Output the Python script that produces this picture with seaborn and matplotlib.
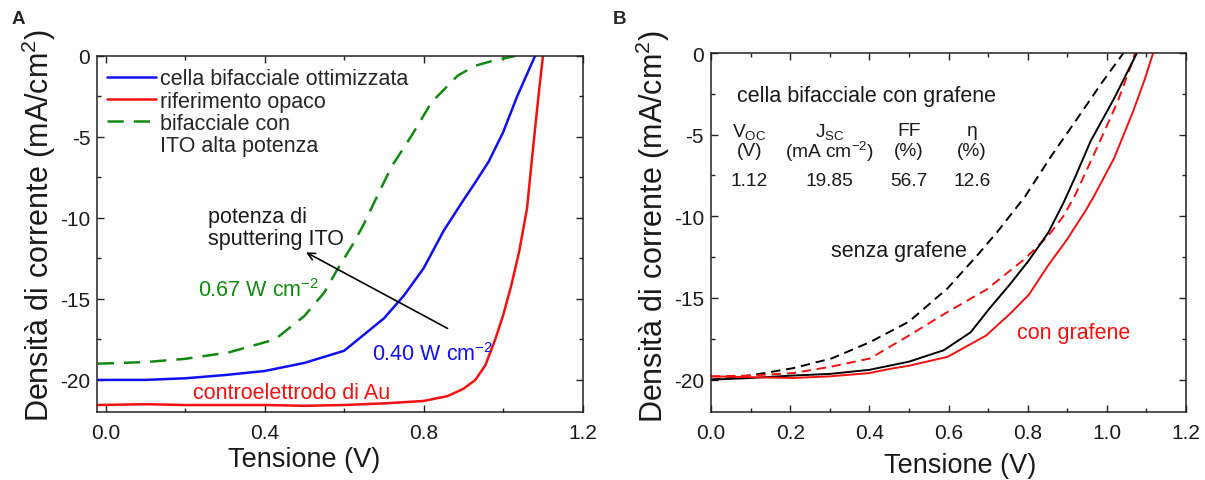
import matplotlib
matplotlib.use("Agg")
import matplotlib.pyplot as plt
from matplotlib.lines import Line2D
from matplotlib.ticker import MultipleLocator, FormatStrFormatter
import seaborn as sns

# ---------------- Panel A: ITO sputtering power ----------------
va_ref = [-0.02, 0.1, 0.2, 0.3, 0.4, 0.5, 0.6, 0.7, 0.8, 0.86, 0.9, 0.93, 0.955,
          0.98, 1.0, 1.02, 1.04, 1.06, 1.073, 1.088, 1.10]
ja_ref = [-21.55, -21.5, -21.55, -21.55, -21.55, -21.6, -21.55, -21.45, -21.3, -21.0,
          -20.55, -20.0, -19.1, -17.5, -16.0, -14.2, -12.1, -9.4, -6.2, -2.65, 0.0]

va_opt = [-0.02, 0.1, 0.2, 0.3, 0.4, 0.5, 0.6, 0.65, 0.7, 0.75, 0.8, 0.85, 0.9,
          0.93, 0.964, 1.0, 1.035, 1.08]
ja_opt = [-20.0, -20.0, -19.9, -19.7, -19.45, -18.95, -18.2, -17.2, -16.2, -14.8,
          -13.1, -10.8, -8.9, -7.8, -6.5, -4.7, -2.5, 0.0]

va_hi = [-0.02, 0.1, 0.2, 0.31, 0.426, 0.5, 0.55, 0.58, 0.62, 0.647, 0.69, 0.72,
         0.77, 0.82, 0.886, 0.93, 0.973, 1.03]
ja_hi = [-19.0, -18.9, -18.7, -18.3, -17.5, -16.05, -14.6, -13.3, -11.7, -10.5,
         -8.3, -6.8, -4.9, -2.85, -1.2, -0.6, -0.3, 0.0]

legend_a = ["cella bifacciale ottimizzata", "riferimento opaco", "bifacciale con",
            "ITO alta potenza"]

# ---------------- Panel B: graphene ----------------
vb_k_solid = [0.0, 0.1, 0.207, 0.30, 0.40, 0.50, 0.588, 0.656, 0.705, 0.754, 0.803,
              0.852, 0.89, 0.92, 0.959, 1.018, 1.076]
jb_k_solid = [-20.0, -19.9, -19.75, -19.65, -19.4, -18.9, -18.2, -17.1, -15.6, -14.2,
              -12.7, -11.0, -9.2, -7.6, -5.4, -2.8, 0.0]

vb_k_dash = [0.0, 0.05, 0.11, 0.207, 0.305, 0.402, 0.50, 0.598, 0.676, 0.725, 0.793,
             0.861, 0.92, 0.988, 1.042]
jb_k_dash = [-20.0, -19.9, -19.7, -19.3, -18.7, -17.7, -16.45, -14.4, -12.3, -10.9,
             -8.8, -6.26, -4.2, -1.8, 0.0]

vb_r_dash = [0.0, 0.1, 0.207, 0.305, 0.402, 0.50, 0.598, 0.695, 0.793, 0.852, 0.89,
             0.92, 0.978, 1.027, 1.061, 1.071]
jb_r_dash = [-19.8, -19.75, -19.6, -19.2, -18.7, -17.3, -15.85, -14.5, -12.6, -11.2,
             -10.0, -8.7, -5.65, -3.0, -0.77, 0.0]

vb_r_solid = [0.0, 0.1, 0.207, 0.30, 0.40, 0.45, 0.50, 0.598, 0.695, 0.754, 0.803,
              0.852, 0.90, 0.949, 0.969, 1.018, 1.066, 1.096, 1.117]
jb_r_solid = [-19.8, -19.85, -19.9, -19.8, -19.6, -19.35, -19.15, -18.6, -17.3, -16.0,
              -14.8, -13.0, -11.4, -9.55, -8.7, -6.46, -3.6, -1.6, 0.0]

table_heads = ["V$_{\\rm OC}$", "J$_{\\rm SC}$", "FF", "η"]
table_units = ["(V)", "(mA cm$^{-2}$)", "(%)", "(%)"]
table_vals = ["1.12", "19.85", "56.7", "12.6"]

BLUE = "#1010f5"
RED = "#f51010"
GREEN = "#128a12"
INK = "#1a1a1a"
FS = 15.5

sns.set_theme(style="ticks")
plt.rcParams.update({
    "font.family": ["Liberation Sans", "DejaVu Sans"],
    "mathtext.fontset": "custom",
    "mathtext.rm": "Liberation Sans",
    "mathtext.it": "Liberation Sans:italic",
    "mathtext.bf": "Liberation Sans:bold",
    "axes.unicode_minus": False,
    "axes.edgecolor": "#222222",
    "axes.linewidth": 1.1,
    "xtick.color": "#222222",
    "ytick.color": "#222222",
    "xtick.labelcolor": INK,
    "ytick.labelcolor": INK,
})

W, H = 1205, 481
fig = plt.figure(figsize=(W / 100, H / 100), dpi=100)
axA = fig.add_axes([97.3 / W, 1 - 413.3 / H, 485.4 / W, 356.3 / H])
axB = fig.add_axes([711 / W, 1 - 413.3 / H, 475 / W, 359.3 / H])


def style_axes(ax, xmaj, xmin):
    ax.xaxis.set_major_locator(MultipleLocator(xmaj))
    ax.xaxis.set_minor_locator(MultipleLocator(xmin))
    ax.yaxis.set_major_locator(MultipleLocator(5))
    ax.yaxis.set_minor_locator(MultipleLocator(2.5))
    ax.xaxis.set_major_formatter(FormatStrFormatter("%.1f"))
    ax.yaxis.set_major_formatter(FormatStrFormatter("%d"))
    ax.tick_params(which="both", direction="in", top=True, right=True,
                   width=1.0, labelsize=15)
    ax.tick_params(which="major", length=5)
    ax.tick_params(which="minor", length=2.8)
    ax.tick_params(axis="x", which="major", pad=8)
    ax.tick_params(axis="y", which="major", pad=5)
    for s in ax.spines.values():
        s.set_visible(True)
    ax.set_xlabel("Tensione (V)", fontsize=19.5, color=INK)
    ax.set_ylabel("Densità di corrente (mA/cm$^2$)", fontsize=22, color=INK)


# ---- Panel A ----
sns.lineplot(x=va_opt, y=ja_opt, ax=axA, color=BLUE, lw=1.8, sort=False,
             estimator=None, label=legend_a[0])
sns.lineplot(x=va_ref, y=ja_ref, ax=axA, color=RED, lw=1.8, sort=False,
             estimator=None, label=legend_a[1])
sns.lineplot(x=va_hi, y=ja_hi, ax=axA, color=GREEN, lw=1.8, sort=False,
             estimator=None, label=legend_a[2], linestyle=(0, (6.5, 4.0)))
axA.set_xlim(-0.021, 1.2)
axA.set_ylim(-22, 0)
style_axes(axA, 0.4, 0.2)
axA.xaxis.set_label_coords(0.427, -0.095)
axA.yaxis.set_label_coords(-0.081, 0.528)

handles, labels = axA.get_legend_handles_labels()
handles.append(Line2D([], [], color="none"))
labels.append(legend_a[3])
axA.legend(handles, labels, loc="upper left", bbox_to_anchor=(0.021, 0.965),
           frameon=False, fontsize=FS, handlelength=2.25, handletextpad=0.18,
           labelspacing=0.05, borderpad=0, borderaxespad=0)

axA.text(0.258, -10.6, "potenza di\nsputtering ITO", fontsize=FS, color=INK,
         ha="left", va="center", linespacing=1.05)
axA.annotate("", xy=(0.498, -12.04), xytext=(0.866, -16.9),
             arrowprops=dict(arrowstyle="->", color="black", lw=1.2,
                             mutation_scale=13))
axA.text(0.233, -14.4, "0.67 W cm$^{-2}$", fontsize=FS, color=GREEN,
         ha="left", va="center")
axA.text(0.67, -18.4, "0.40 W cm$^{-2}$", fontsize=FS, color=BLUE,
         ha="left", va="center")
axA.text(0.219, -20.75, "controelettrodo di Au", fontsize=FS, color=RED,
         ha="left", va="center")

# ---- Panel B ----
dashB = (0, (4.8, 3.0))
sns.lineplot(x=vb_k_dash, y=jb_k_dash, ax=axB, color="black", lw=1.4, sort=False,
             estimator=None, linestyle=dashB)
sns.lineplot(x=vb_r_dash, y=jb_r_dash, ax=axB, color=RED, lw=1.4, sort=False,
             estimator=None, linestyle=dashB)
sns.lineplot(x=vb_k_solid, y=jb_k_solid, ax=axB, color="black", lw=1.4, sort=False,
             estimator=None)
sns.lineplot(x=vb_r_solid, y=jb_r_solid, ax=axB, color=RED, lw=1.4, sort=False,
             estimator=None)
axB.set_xlim(0, 1.2)
axB.set_ylim(-22, 0)
style_axes(axB, 0.2, 0.1)
axB.xaxis.set_label_coords(0.524, -0.11)
axB.yaxis.set_label_coords(-0.082, 0.52)

axB.text(0.392, -2.6, "cella bifacciale con grafene", fontsize=FS, color=INK,
         ha="center", va="center")
col_x = [0.097, 0.30, 0.50, 0.66]
for x, h, u, v in zip(col_x, table_heads, table_units, table_vals):
    axB.text(x, -4.75, h, fontsize=13.8, color=INK, ha="center", va="center")
    axB.text(x, -6.0, u, fontsize=13.8, color=INK, ha="center", va="center")
    axB.text(x, -7.8, v, fontsize=13.8, color=INK, ha="center", va="center")

axB.text(0.304, -12.1, "senza grafene", fontsize=FS, color=INK,
         ha="left", va="center")
axB.text(0.773, -17.1, "con grafene", fontsize=FS, color=RED,
         ha="left", va="center")

fig.text(12 / W, 1 - 20 / H, "A", fontsize=13.5, fontweight="bold",
         ha="left", va="center")
fig.text(613 / W, 1 - 20 / H, "B", fontsize=13.5, fontweight="bold",
         ha="left", va="center")

fig.savefig("out.png", dpi=100)
